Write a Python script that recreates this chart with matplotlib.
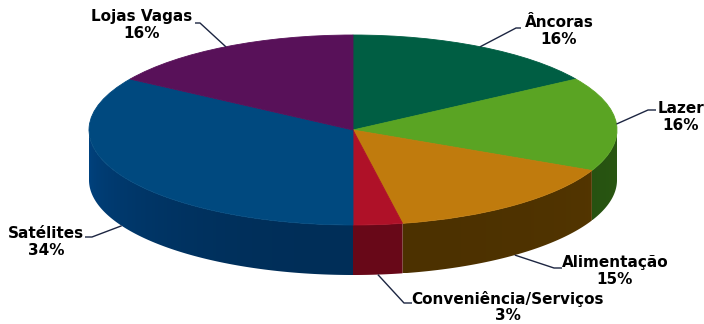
import numpy as np
import matplotlib.pyplot as plt
from matplotlib.patches import Polygon
import matplotlib.colors as mcolors

labels = ['Âncoras', 'Lazer', 'Alimentação', 'Conveniência/Serviços', 'Satélites', 'Lojas Vagas']
values = [16, 16, 15, 3, 34, 16]
top_colors = ['#005E43', '#5AA423', '#C07B0D', '#AF1128', '#00497F', '#581159']
side_colors = ['#003D2B', '#244C10', '#4C3100', '#680818', '#002E58', '#3A0B3C']

# layout in pixels (from top-left)
W, H = 704, 324
CX, CY = 353, 130
RX, RY = 264, 95
DEPTH = 50
text_pos = [(559, 31), (681, 117), (615, 271), (508, 307), (46, 242), (142, 25)]
leader_end = [(521, 28), (656, 110), (562, 268), (412, 303), (85, 237), (195, 23)]
leader_elbow = [(516, 28), (648, 110), (554, 268), (404, 303), (92, 237), (200, 23)]


def px(x, y):
    return (x - CX) / RX, (CY - y) / RY


fig = plt.figure(figsize=(7.04, 3.24), dpi=100)
ax = fig.add_axes([0, 0, 1, 1])
wedges, _ = ax.pie(values, colors=top_colors, startangle=90, counterclock=False, radius=1,
                   wedgeprops=dict(linewidth=0.6, zorder=3))
for w, c in zip(wedges, top_colors):
    w.set_edgecolor(c)

d = DEPTH / RY
cum = np.concatenate([[0], np.cumsum(values)]) / sum(values) * 360.0
bounds = 90 - cum  # angles in degrees, decreasing

for i in range(len(values)):
    hi, lo = bounds[i], bounds[i + 1]
    a, b = max(lo, -180), min(hi, 0)
    if b <= a:
        continue
    ts = np.radians(np.linspace(a, b, 200))
    top = np.column_stack([np.cos(ts), np.sin(ts)])
    bot = np.column_stack([np.cos(ts[::-1]), np.sin(ts[::-1]) - d])
    poly = Polygon(np.vstack([top, bot]), closed=True, facecolor='none', edgecolor='none',
                   transform=ax.transData)
    ax.add_patch(poly)
    x0, x1 = np.cos(ts).min(), np.cos(ts).max()
    xs = np.linspace(x0, x1, 300)
    tm = -np.arccos(np.clip(xs, -1, 1))  # front angle for each x
    s = 1 + np.sin(tm)
    f = 1 + np.where(np.cos(tm) < 0, 0.45, 0.15) * s
    base = np.array(mcolors.to_rgb(side_colors[i]))
    img = np.clip(base[None, None, :] * f[None, :, None], 0, 1)
    ymin = np.sin(ts).min() - d
    ymax = np.sin(ts).max()
    im = ax.imshow(img, extent=[x0, x1, ymin, ymax], aspect='auto', interpolation='bilinear',
                   zorder=2)
    im.set_clip_path(poly)
    # thin outline in same colour at the seam ends to avoid gaps
    ax.fill(np.vstack([top, bot])[:, 0], np.vstack([top, bot])[:, 1],
            facecolor='none', edgecolor=mcolors.to_hex(np.clip(base * 1.0, 0, 1)), lw=0.0, zorder=2)

ax.set_aspect('auto')
ax.set_xlim(-CX / RX, (W - CX) / RX)
ax.set_ylim((CY - H) / RY, CY / RY)
ax.axis('off')

for i, lab in enumerate(labels):
    mid = np.radians((bounds[i] + bounds[i + 1]) / 2)
    ax_x, ax_y = np.cos(mid), np.sin(mid)
    if ax_y < 0:
        ax_y -= d
    ex, ey = px(*leader_end[i])
    bx, by = px(*leader_elbow[i])
    ax.plot([ax_x, bx, ex], [ax_y, by, ey], color='#1C2541', lw=1.0, zorder=4, solid_capstyle='butt')
    tx, ty = px(*text_pos[i])
    ax.text(tx, ty, f"{lab}\n{values[i]}%", ha='center', va='center', fontsize=11,
            fontweight='bold', family='DejaVu Sans', color='black', linespacing=1.15, zorder=5)

fig.savefig('out.png', dpi=100, facecolor='white')
